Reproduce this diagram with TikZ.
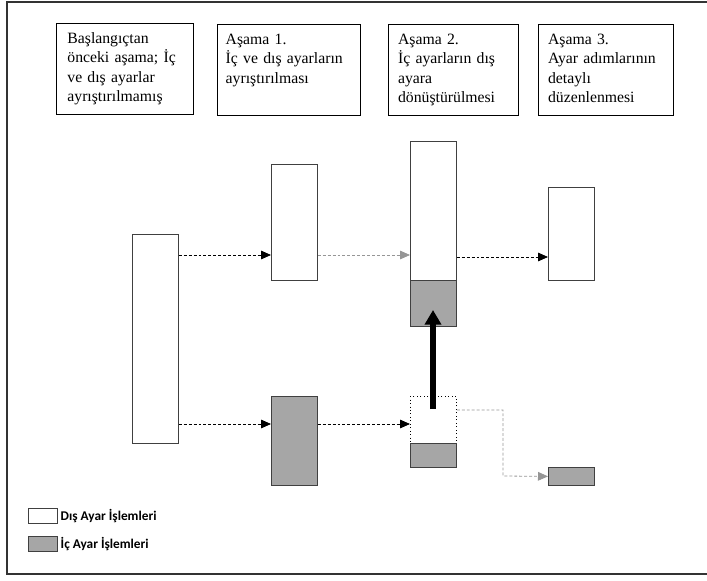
\documentclass[tikz,border=0pt]{standalone}
\usepackage{fontspec}
\setmainfont{Liberation Serif}
\newfontfamily\legendfont{Carlito}
\usetikzlibrary{arrows.meta, positioning, calc}
\definecolor{icgray}{RGB}{166,166,166}
\definecolor{linegray}{RGB}{150,150,150}

\begin{document}
\begin{tikzpicture}[x=0.75pt, y=-0.75pt,
    phasebox/.style={draw, line width=1.1pt, anchor=north west, inner xsep=9pt, inner ysep=0pt,
      align=left, font=\fontsize{11.8}{14.4}\selectfont, text height=15pt, text depth=53pt},
    bar/.style={draw=black!75, line width=0.6pt, anchor=north west, inner sep=0pt, minimum width=34.5pt},
    dis/.style={bar, fill=white},
    ic/.style={bar, fill=icgray},
    flow/.style={dash pattern=on 2.2pt off 1.5pt, line width=0.6pt, -{Triangle[length=7.5pt, width=6.5pt]}},
    flowgray/.style={flow, draw=linegray},
    legendbox/.style={draw=black!75, line width=0.6pt, anchor=north west, inner sep=0pt,
      minimum width=21.75pt, minimum height=11.25pt},
    legendtext/.style={inner sep=0pt, font=\legendfont\bfseries\fontsize{10}{12}\selectfont}]
  \useasboundingbox (0,0) rectangle (707,581);
  % frame
  \draw[line width=0.9pt, black!80] (712,2) -- (7,2) -- (7,574) -- (712,574);

  % phase headers
  \node[phasebox, text width=86.75pt, inner xsep=8pt] (hdr0) at (56,23) {Başlangıçtan\\önceki aşama; İç\\ve dış ayarlar\\ayrıştırılmamış};
  \node[phasebox, text width=95.25pt, inner xsep=6pt] (hdr1) at (217,24) {Aşama 1.\\İç ve dış ayarların\\ayrıştırılması};
  \node[phasebox, text width=83.5pt, inner xsep=7pt] (hdr2) at (388,24) {Aşama 2.\\İç ayarların dış\\ayara\\dönüştürülmesi};
  \node[phasebox, text width=87.25pt, inner xsep=7pt] (hdr3) at (538,24) {Aşama 3.\\Ayar adımlarının\\detaylı\\düzenlenmesi};

  % bars
  \node[dis, minimum height=156.75pt] (s0) at (132,234) {};
  \node[dis, minimum height=87pt] (a1dis) at (271,164) {};
  \node[ic, minimum height=66.75pt] (a1ic) at (271,396) {};
  \node[dis, minimum height=104.25pt] (a2dis) at (410,141) {};
  \node[ic, minimum height=34.5pt] (a2ic) at (410,280) {};
  \node[bar, draw=black, dotted, line width=0.7pt, minimum height=35.25pt] (a2old) at (410,396) {};
  \node[ic, minimum height=18pt] (a2rest) at (410,443) {};
  \node[dis, minimum height=69.75pt] (a3dis) at (548,187) {};
  \node[ic, minimum height=13.5pt] (a3ic) at (548,467) {};

  % flows
  \coordinate (upper) at (0,255);
  \coordinate (lower) at (0,424);
  \coordinate (side) at (0,410);
  \coordinate (bend) at (503,476);
  \draw[flow] (s0.east |- upper) -- (a1dis.west |- upper);
  \draw[flowgray] (a1dis.east |- upper) -- (a2dis.west |- upper);
  \draw[flow] (a2dis.east |- 0,257) -- (a3dis.west |- 0,257);
  \draw[flow] (s0.east |- lower) -- (a1ic.west |- lower);
  \draw[flow] (a1ic.east |- lower) -- (a2old.west |- lower);
  \draw[flowgray] (a2old.east |- side) -| (bend) -- (a3ic.west);

  % conversion arrow
  \coordinate (pushfrom) at (433,409);
  \coordinate (pushto) at (433,310);
  \draw[line width=3.8pt, -{Triangle[length=11pt, width=12pt]}] (pushfrom) -- (pushto);

  % legend
  \node[legendbox, fill=white] (ldis) at (28,508) {};
  \node[legendtext, right=2pt of ldis] (ldistext) {Dış Ayar İşlemleri};
  \node[legendbox, fill=icgray] (lic) at (28,536) {};
  \node[legendtext, right=2pt of lic] (lictext) {İç Ayar İşlemleri};
\end{tikzpicture}
\end{document}
